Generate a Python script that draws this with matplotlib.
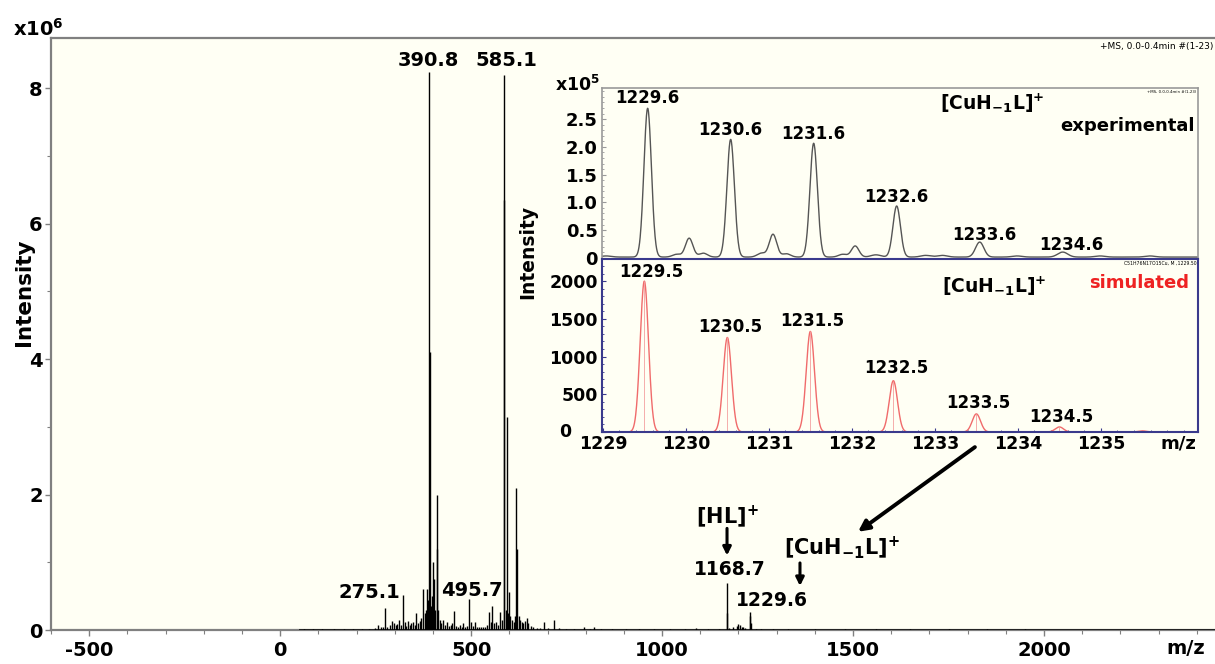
import numpy as np
import matplotlib
matplotlib.use("Agg")
import matplotlib.pyplot as plt
from matplotlib.ticker import FixedLocator, MultipleLocator, FixedFormatter

plt.rcParams["font.family"] = ["DejaVu Sans"]
plt.rcParams["font.weight"] = "bold"
plt.rcParams["mathtext.fontset"] = "dejavusans"

# ---------------- full scan: centroid sticks (m/z, intensity x1e6) ----------------
scan_mz = [62, 85, 110, 142, 168, 190, 213, 232, 248, 257, 263, 270, 275.1, 280, 287,
           292, 297, 302, 307, 312, 316, 321, 326, 330, 334, 339, 343, 347, 352, 356,
           361, 365, 369, 373, 378, 381, 384, 387, 390.8, 391.8, 395, 398, 400, 403,
           406, 410.8, 411.8, 414, 418, 422, 426, 431, 436, 441, 446, 451, 455, 460,
           465, 470, 475, 480, 485, 490, 495.7, 500, 505, 510, 515, 520, 526, 532,
           537, 542, 548, 552, 555, 560, 565, 570, 576, 580, 585.1, 586.1, 590, 593,
           596, 599, 603, 607, 611, 614, 618, 621, 625, 628, 632, 637, 641, 646, 650,
           656, 663, 672, 680, 691, 700, 717, 730, 748, 770, 795, 810, 821, 840, 870,
           905, 940, 980, 1020, 1060, 1090, 1120, 1150, 1168.7, 1169.7, 1175, 1186,
           1195, 1200, 1204, 1208, 1213, 1218, 1229.6, 1230.6, 1231.6, 1245, 1260,
           1290, 1330, 1400, 1480, 1560, 1650, 1750, 1850, 1950]
scan_int = [0.01, 0.01, 0.01, 0.01, 0.01, 0.01, 0.015, 0.015, 0.03, 0.07, 0.05, 0.04, 0.33,
            0.05, 0.08, 0.13, 0.10, 0.07, 0.09, 0.15, 0.08, 0.52, 0.12, 0.06, 0.14, 0.08,
            0.10, 0.12, 0.07, 0.25, 0.10, 0.14, 0.18, 0.60, 0.25, 0.30, 0.60, 0.45, 8.24,
            4.10, 0.35, 0.50, 1.00, 0.75, 0.30, 2.00, 1.20, 0.30, 0.15, 0.10, 0.15, 0.08,
            0.12, 0.06, 0.08, 0.10, 0.28, 0.06, 0.05, 0.07, 0.05, 0.10, 0.05, 0.06, 0.46,
            0.12, 0.06, 0.12, 0.04, 0.05, 0.04, 0.05, 0.04, 0.08, 0.26, 0.12, 0.35, 0.10,
            0.12, 0.08, 0.26, 0.15, 8.19, 6.35, 0.30, 3.15, 0.25, 0.56, 0.20, 0.15, 0.12,
            0.20, 2.10, 1.20, 0.20, 0.15, 0.12, 0.10, 0.14, 0.18, 0.10, 0.06, 0.05, 0.03,
            0.03, 0.12, 0.03, 0.15, 0.03, 0.02, 0.02, 0.04, 0.02, 0.05, 0.02, 0.02, 0.02,
            0.02, 0.02, 0.015, 0.02, 0.03, 0.015, 0.02, 0.70, 0.25, 0.03, 0.04, 0.06,
            0.09, 0.07, 0.05, 0.04, 0.03, 0.27, 0.20, 0.10, 0.02, 0.015, 0.01, 0.01,
            0.01, 0.01, 0.01, 0.01, 0.01, 0.01, 0.01]
scan_labels = ["390.8", "585.1", "275.1", "495.7"]
scan_xticks = [-500, 0, 500, 1000, 1500, 2000]
scan_yticks = [0, 2, 4, 6, 8]

# ---------------- isotope cluster, experimental (m/z, intensity x1e5, width) ----------------
exp_mz = [1229.10, 1229.60, 1229.95, 1230.10, 1230.27, 1230.60, 1230.97, 1231.11, 1231.27,
          1231.60, 1231.95, 1232.10, 1232.35, 1232.60, 1232.95, 1233.15, 1233.60, 1234.05,
          1234.60, 1235.05, 1235.65]
exp_int = [0.02, 2.68, 0.05, 0.34, 0.07, 2.12, 0.07, 0.41, 0.06, 2.05, 0.05, 0.20, 0.04,
           0.92, 0.03, 0.03, 0.27, 0.02, 0.09, 0.02, 0.02]
exp_width = [0.06, 0.045, 0.05, 0.045, 0.05, 0.045, 0.05, 0.045, 0.05, 0.045, 0.05, 0.045,
             0.06, 0.045, 0.06, 0.06, 0.05, 0.06, 0.06, 0.06, 0.06]
exp_labels = ["1229.6", "1230.6", "1231.6", "1232.6", "1233.6", "1234.6"]
exp_yticks = [0, 0.5, 1.0, 1.5, 2.0, 2.5]
exp_yticklabels = ["0", "0.5", "1.0", "1.5", "2.0", "2.5"]

# ---------------- isotope cluster, simulated ----------------
sim_mz = [1229.5, 1230.5, 1231.5, 1232.5, 1233.5, 1234.5, 1235.5]
sim_int = [2000, 1253, 1333, 680, 240, 67, 15]
sim_width = 0.05
sim_labels = ["1229.5", "1230.5", "1231.5", "1232.5", "1233.5", "1234.5"]
sim_xticks = [1229, 1230, 1231, 1232, 1233, 1234, 1235]
sim_yticks = [0, 500, 1000, 1500, 2000]
sim_yticklabels = ["", "500", "1000", "1500", "2000"]

W, H = 1215, 664
BG = "#fffff4"
fig = plt.figure(figsize=(W / 100, H / 100), dpi=100)
fig.patch.set_facecolor("white")


def box(x0, y0, x1, y1):
    return [x0 / W, 1 - y1 / H, (x1 - x0) / W, (y1 - y0) / H]


def profile(x, centres, heights, widths):
    widths = np.broadcast_to(widths, np.shape(centres))
    y = np.zeros_like(x)
    for c, h, w in zip(centres, heights, widths):
        y += h * np.exp(-0.5 * ((x - c) / w) ** 2)
    return y


# ---------------- main spectrum ----------------
ax = fig.add_axes(box(51, 38, 1235, 630))
ax.set_facecolor(BG)
ax.set_xlim(-600, 2500)
ax.set_ylim(0, 8.74)
ax.hlines(0, 50, 2500, color="#222222", lw=1.4, zorder=3)
ax.vlines(scan_mz, 0, scan_int, color="black", lw=1.0, zorder=3)

for s in ["left", "bottom", "top"]:
    ax.spines[s].set_color("#808080")
    ax.spines[s].set_linewidth(1.6)
ax.spines["right"].set_visible(False)
ax.xaxis.set_major_locator(FixedLocator(scan_xticks))
ax.xaxis.set_minor_locator(MultipleLocator(100))
ax.yaxis.set_major_locator(FixedLocator(scan_yticks))
ax.yaxis.set_minor_locator(MultipleLocator(1))
ax.set_xticklabels([str(t) for t in scan_xticks])
ax.set_yticklabels([str(t) for t in scan_yticks])
ax.tick_params(axis="both", which="both", direction="out", colors="#808080",
               labelcolor="black", labelsize=14)
ax.tick_params(which="major", length=4, width=1.0)
ax.tick_params(which="minor", length=3, width=0.8)
ax.tick_params(axis="x", pad=4)
ax.tick_params(axis="y", pad=2)
for lab in ax.get_xticklabels() + ax.get_yticklabels():
    lab.set_fontweight("bold")

lab_kw = dict(ha="center", va="center", fontsize=14, fontweight="bold")
ax.text(387, 8.41, scan_labels[0], **lab_kw)
ax.text(592, 8.41, scan_labels[1], **lab_kw)
ax.text(233, 0.55, scan_labels[2], **lab_kw)
ax.text(503, 0.59, scan_labels[3], **lab_kw)

ax.text(1170, 1.67, r"$\mathbf{[HL]^{+}}$", ha="center", va="center", fontsize=15)
ax.annotate("", xy=(1170, 1.10), xytext=(1170, 1.50),
            arrowprops=dict(arrowstyle="-|>", lw=2.2, color="black", mutation_scale=12,
                            shrinkA=0, shrinkB=0))
ax.text(1178, 0.90, "1168.7", **{**lab_kw, "fontsize": 13.5})
ax.text(1471, 1.22, r"$\mathbf{[CuH_{-1}L]^{+}}$", ha="center", va="center", fontsize=15)
ax.annotate("", xy=(1361, 0.65), xytext=(1361, 0.99),
            arrowprops=dict(arrowstyle="-|>", lw=2.2, color="black", mutation_scale=12,
                            shrinkA=0, shrinkB=0))
ax.text(1288, 0.44, "1229.6", **{**lab_kw, "fontsize": 13.5})
ax.annotate("", xy=(1513, 1.45), xytext=(1819, 2.70),
            arrowprops=dict(arrowstyle="-|>", lw=2.8, color="black", mutation_scale=16,
                            shrinkA=0, shrinkB=0))

fig.text(13 / W, 1 - 29 / H, r"x10$\mathbf{^{6}}$", ha="left", va="center",
         fontsize=14, fontweight="bold")
fig.text(24 / W, 1 - 292 / H, "Intensity", rotation=90, ha="center", va="center",
         fontsize=15.5, fontweight="bold")
fig.text(1186 / W, 1 - 648 / H, "m/z", ha="center", va="center", fontsize=14,
         fontweight="bold")
fig.text(1213 / W, 1 - 47 / H, "+MS, 0.0-0.4min #(1-23)", ha="right", va="center",
         fontsize=6.5, fontweight="normal")

# ---------------- inset: experimental ----------------
ax1 = fig.add_axes(box(602, 88, 1198, 259))
ax1.set_facecolor(BG)
ax1.set_xlim(1229.05, 1236.23)
ax1.set_ylim(-0.02, 3.06)
xe = np.linspace(1229.05, 1236.23, 2000)
ye = profile(xe, exp_mz, exp_int, exp_width) + 0.015
ax1.plot(xe, ye, color="#555555", lw=1.0)
for s in ax1.spines.values():
    s.set_color("#999999")
    s.set_linewidth(1.2)
ax1.set_xticks([])
ax1.yaxis.set_major_locator(FixedLocator(exp_yticks))
ax1.yaxis.set_major_formatter(FixedFormatter(exp_yticklabels))
ax1.yaxis.set_minor_locator(MultipleLocator(0.1))
ax1.tick_params(axis="y", which="both", direction="in", colors="#999999",
                labelcolor="black", labelsize=13, pad=3)
ax1.tick_params(axis="y", which="major", length=3)
ax1.tick_params(axis="y", which="minor", length=1.5)
for lab in ax1.get_yticklabels():
    lab.set_fontweight("bold")

ilab = dict(ha="center", va="center", fontsize=12, fontweight="bold")
exp_pos = [(1229.6, 2.88), (1230.6, 2.30), (1231.6, 2.23), (1232.6, 1.10),
           (1233.66, 0.41), (1234.7, 0.23)]
for (x, y), t in zip(exp_pos, exp_labels):
    ax1.text(x, y, t, **ilab)
ax1.text(1233.75, 2.79, r"$\mathbf{[CuH_{-1}L]^{+}}$", ha="center", va="center",
         fontsize=13.5)
ax1.text(0.995, 0.78, "experimental", transform=ax1.transAxes, ha="right",
         va="center", fontsize=13, fontweight="bold")
ax1.text(0.997, 0.975, "+MS, 0.0-0.4min #(1-23)", transform=ax1.transAxes,
         ha="right", va="center", fontsize=2.8, fontweight="normal")

# ---------------- inset: simulated ----------------
ax2 = fig.add_axes(box(602, 259, 1198, 432))
ax2.set_facecolor(BG)
ax2.set_xlim(1228.99, 1236.17)
ax2.set_ylim(0, 2293)
xs = np.linspace(1228.99, 1236.17, 2000)
ys = profile(xs, sim_mz, sim_int, sim_width)
ax2.plot(xs, ys, color="#f06b6b", lw=1.0)
ax2.vlines(sim_mz, 0, sim_int, color="#f4a0a0", lw=0.6)
for s in ax2.spines.values():
    s.set_color("#3a3a8c")
    s.set_linewidth(1.5)
ax2.xaxis.set_major_locator(FixedLocator(sim_xticks))
ax2.xaxis.set_minor_locator(MultipleLocator(0.2))
ax2.yaxis.set_major_locator(FixedLocator(sim_yticks))
ax2.yaxis.set_major_formatter(FixedFormatter(sim_yticklabels))
ax2.yaxis.set_minor_locator(MultipleLocator(100))
ax2.tick_params(which="both", direction="in", colors="#3a3a8c", labelcolor="black",
                labelsize=12.5)
ax2.tick_params(which="major", length=3)
ax2.tick_params(which="minor", length=1.5)
ax2.tick_params(axis="x", pad=2)
ax2.tick_params(axis="y", pad=3)
for lab in ax2.get_xticklabels() + ax2.get_yticklabels():
    lab.set_fontweight("bold")
# zero label of the simulated panel sits left of the tick column
ax2.text(-0.062, 0.0, "0", transform=ax2.transAxes, ha="center", va="center",
         fontsize=12.5, fontweight="bold")

sim_pos = [(1229.58, 2120), (1230.54, 1387), (1231.52, 1467), (1232.54, 853),
           (1233.52, 387), (1234.52, 200)]
for (x, y), t in zip(sim_pos, sim_labels):
    ax2.text(x, y, t, **ilab)
ax2.text(1233.72, 1933, r"$\mathbf{[CuH_{-1}L]^{+}}$", ha="center", va="center",
         fontsize=13.5)
ax2.text(0.985, 0.86, "simulated", transform=ax2.transAxes, ha="right", va="center",
         fontsize=13, fontweight="bold", color="#ee2222")
ax2.text(0.997, 0.975, "C51H76N17O15Cu, M ,1229.50", transform=ax2.transAxes,
         ha="right", va="center", fontsize=3.3, fontweight="normal")

fig.text(600 / W, 1 - 85 / H, r"x10$\mathbf{^{5}}$", ha="right", va="center",
         fontsize=12.5, fontweight="bold")
fig.text(1178 / W, 1 - 443 / H, "m/z", ha="center", va="center", fontsize=13,
         fontweight="bold")
fig.text(528 / W, 1 - 252 / H, "Intensity", rotation=90, ha="center", va="center",
         fontsize=13.5, fontweight="bold")

fig.savefig("out.png", dpi=100, facecolor="white")
